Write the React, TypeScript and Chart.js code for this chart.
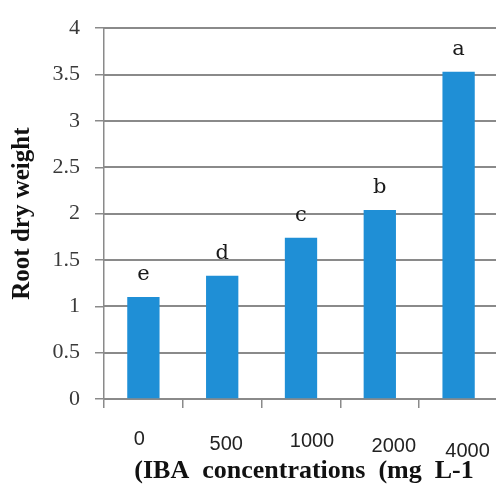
import { useEffect, useRef } from "react";
import { Chart, registerables } from "chart.js";

Chart.register(...registerables);

// IBA concentration (mg L-1) categories and measured root dry weight
const categories = ["0", "500", "1000", "2000", "4000"];
const rootDryWeight = [1.1, 1.33, 1.74, 2.04, 3.53];
// Mean-separation letters shown above each bar
const significance = ["e", "d", "c", "b", "a"];

const yMin = 0;
const yMax = 4;
const yStep = 0.5;

const yTitle = "Root dry weight";
const xTitle = "(IBA  concentrations  (mg  L-1";

// Small per-label nudges for the staggered category labels [dx, dy]
const labelNudge: [number, number][] = [
  [-4, 0],
  [4, 5],
  [11, 2],
  [14, 7],
  [9, 12],
];

const GRID = "#8a8a8a";
const BAR = "#1f8fd6";
const GRID_WIDTH = 1.5;

// Horizontal value lines across the plot, one per y tick
const valueLines = {
  id: "valueLines",
  beforeDatasetsDraw(chart: any) {
    const ctx = chart.ctx as CanvasRenderingContext2D;
    const ys = chart.scales.y;
    const area = chart.chartArea;
    ctx.save();
    ctx.fillStyle = GRID;
    ys.ticks.forEach((t: any) => {
      const p = Math.round(ys.getPixelForValue(t.value)) - 1;
      ctx.fillRect(area.left, p, area.right - area.left, 2);
    });
    ctx.restore();
  },
};

// Letters over bars, staggered category labels and the two axis titles
const annotate = {
  id: "annotate",
  afterDraw(chart: any) {
    const ctx = chart.ctx as CanvasRenderingContext2D;
    const meta = chart.getDatasetMeta(0);
    const area = chart.chartArea;
    ctx.save();
    ctx.textAlign = "center";

    ctx.font = "21px 'DejaVu Serif'";
    ctx.fillStyle = "#1a1a1a";
    ctx.textBaseline = "alphabetic";
    meta.data.forEach((bar: any, i: number) => {
      ctx.fillText(significance[i], bar.x, bar.y - 17);
    });

    const xs = chart.scales.x;
    ctx.font = "20px 'Liberation Sans'";
    ctx.fillStyle = "#222";
    ctx.textBaseline = "middle";
    categories.forEach((c, i) => {
      const [dx, dy] = labelNudge[i];
      ctx.fillText(c, xs.getPixelForValue(i) + dx, xs.top + 40 + dy);
    });

    ctx.fillStyle = "#111";
    ctx.font = "bold 26px 'Liberation Serif'";
    ctx.fillText(xTitle, (area.left + area.right) / 2 + 3, xs.bottom - 15);

    ctx.font = "bold 25px 'Liberation Serif'";
    ctx.translate(23, (area.top + area.bottom) / 2);
    ctx.rotate(-Math.PI / 2);
    ctx.fillText(yTitle, 0, 0);
    ctx.restore();
  },
};

export default function App() {
  const ref = useRef<HTMLCanvasElement | null>(null);

  useEffect(() => {
    if (!ref.current) return;
    const chart = new Chart(ref.current, {
      type: "bar",
      data: {
        labels: categories,
        datasets: [
          {
            data: rootDryWeight,
            backgroundColor: BAR,
            barPercentage: 0.41,
            categoryPercentage: 1,
          },
        ],
      },
      plugins: [valueLines, annotate],
      options: {
        responsive: false,
        animation: false,
        devicePixelRatio: 1,
        layout: { padding: { top: 17, right: 2, bottom: 0, left: 0 } },
        plugins: {
          legend: { display: false },
          tooltip: { enabled: false },
        },
        scales: {
          x: {
            grid: {
              drawOnChartArea: false,
              tickLength: 9,
              color: GRID,
              lineWidth: GRID_WIDTH,
            },
            border: { color: GRID, width: GRID_WIDTH },
            ticks: { display: false },
            afterFit(scale: any) {
              scale.height = 87;
            },
          },
          y: {
            min: yMin,
            max: yMax,
            ticks: {
              stepSize: yStep,
              color: "#3a3a3a",
              padding: 15,
              font: { family: "'Liberation Serif'", size: 22 },
              callback: (v: any) => String(Number(v)),
            },
            grid: {
              drawOnChartArea: false,
              color: GRID,
              lineWidth: GRID_WIDTH,
              tickLength: 9,
            },
            border: { color: GRID, width: GRID_WIDTH },
            afterFit(scale: any) {
              scale.width = 104;
            },
          },
        },
      },
    });
    return () => chart.destroy();
  }, []);

  return (
    <div
      style={{
        position: "absolute",
        left: 0,
        top: 0,
        width: 496,
        height: 486,
        overflow: "hidden",
        background: "#fff",
      }}
    >
      <canvas ref={ref} width={500} height={486} style={{ display: "block", width: 500, height: 486 }} />
    </div>
  );
}
